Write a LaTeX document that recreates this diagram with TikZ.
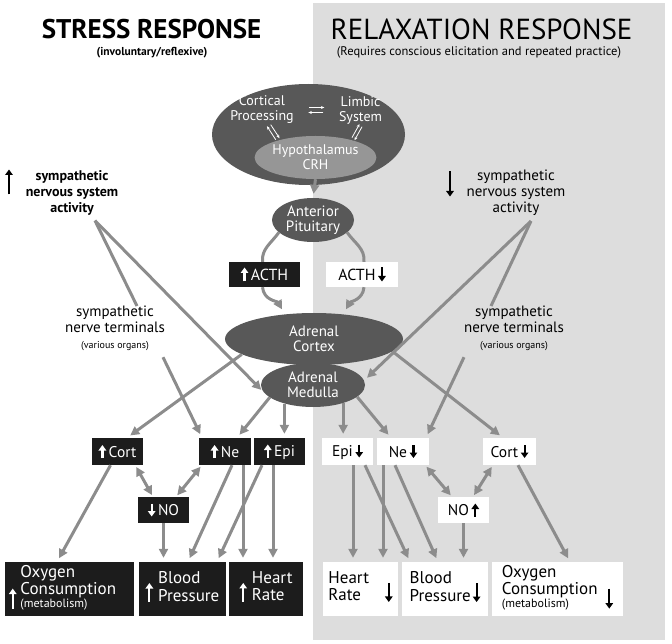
\documentclass[tikz,border=0pt]{standalone}
\usepackage{fontspec}
\setmainfont{PT Sans}
\usetikzlibrary{arrows.meta,shapes.geometric,positioning,calc}
\definecolor{panelgray}{RGB}{221,221,221}
\definecolor{organgray}{RGB}{88,88,88}
\definecolor{hypogray}{RGB}{150,150,150}
\definecolor{linkgray}{RGB}{140,140,140}
\definecolor{boxblack}{RGB}{28,28,28}
\newcommand{\fs}[2]{\fontsize{#1}{#2}\selectfont}
\newcommand{\Up}[1]{\tikz[baseline=0pt]\draw[line width=2.2pt,-{Triangle[length=5.5pt,width=7.5pt]}] (0pt,-1pt) -- (0pt,#1);}
\newcommand{\Dn}[1]{\tikz[baseline=0pt]\draw[line width=2.2pt,-{Triangle[length=5.5pt,width=7.5pt]}] (0pt,#1) -- (0pt,-1pt);}
\tikzset{
  organ/.style={ellipse, fill=organgray, text=white, align=center, inner sep=0pt, font=\fs{15}{15}},
  organtext/.style={text=white, align=center, inner sep=0pt, font=\fs{14}{15}},
  upbox/.style={fill=boxblack, text=white, inner sep=0pt, font=\fs{15.5}{16}},
  dnbox/.style={fill=white, text=black, inner sep=0pt, font=\fs{15.5}{16}},
  outU/.style={upbox, minimum height=54pt, font=\fs{17}{17}},
  outD/.style={dnbox, minimum height=54pt, font=\fs{17}{17}},
  note/.style={align=center, inner sep=0pt},
  glyph/.style={inner sep=0pt},
  link/.style={draw=linkgray, line width=3pt, -{Triangle[length=9pt,width=9pt]}, shorten >=4pt},
  bilink/.style={draw=linkgray, line width=3pt, {Triangle[length=9pt,width=9pt]}-{Triangle[length=9pt,width=9pt]}, shorten >=2pt, shorten <=2pt},
  nerve/.style={draw=linkgray, line width=3pt},
  minor/.style={draw=white, line width=0.8pt, -{Stealth[length=3.5pt,width=3pt]}, shorten <=2pt, shorten >=1pt}
}
\begin{document}
\begin{tikzpicture}[x=1pt, y=1pt]
  \useasboundingbox (0,0) rectangle (672,-644);
  \fill[panelgray] (313,-3) rectangle (665,-640);

  % headings
  \node[inner sep=0pt, font=\bfseries\fs{27}{27}] (stressT) at (151.5,-29.5) {STRESS RESPONSE};
  \node[inner sep=0pt, font=\bfseries\fs{11.5}{12}] (stressS) at (152,-53) {(involuntary/reflexive)};
  \node[inner sep=0pt, font=\fs{29}{29}] (relaxT) at (481.5,-29.5) {RELAXATION RESPONSE};
  \node[inner sep=0pt, font=\fs{12.5}{13}] (relaxS) at (479,-52.5) {(Requires conscious elicitation and repeated practice)};

  % brain and HPA axis
  \node[organ, minimum width=193pt, minimum height=101pt] (brain) at (308.5,-134.5) {};
  \node[organtext] (cortical) at (262,-110) {Cortical\\Processing};
  \node[organtext] (limbic) at (360.5,-110) {Limbic\\System};
  \node[organ, fill=hypogray, minimum width=113pt, minimum height=43pt, font=\fs{14}{15}] (hypo) at (315.5,-157.5) {Hypothalamus\\CRH};
  \node[organ, minimum width=82pt, minimum height=44pt] (ap) at (313,-220) {Anterior\\Pituitary};
  \node[organ, minimum width=178pt, minimum height=52pt] (cortex) at (314,-339) {Adrenal\\Cortex};
  \node[organ, minimum width=104pt, minimum height=44pt] (medulla) at (313,-385) {Adrenal\\Medulla};

  \node[upbox, minimum width=71pt, minimum height=25pt, font=\fs{16}{16}] (acthU) at (264.5,-274.5) {\Up{13pt}\,ACTH};
  \node[dnbox, minimum width=72pt, minimum height=25pt, font=\fs{16}{16}] (acthD) at (362,-274.5) {ACTH\,\Dn{13pt}};

  % sympathetic labels
  \node[glyph] (actLarr) at (9,-182) {\Up{24pt}};
  \node[note, font=\bfseries\fs{14}{16}] (actL) at (72,-193) {sympathetic\\nervous system\\activity};
  \node[glyph] (actRarr) at (450,-184) {\Dn{24pt}};
  \node[note, font=\fs{15}{16}] (actR) at (516,-193) {sympathetic\\nervous system\\activity};
  \node[note, font=\fs{15}{16}, anchor=north] (termL) at (115,-306) {sympathetic\\nerve terminals\\{\fs{10}{11}(various organs)}};
  \node[note, font=\fs{15}{16}, anchor=north] (termR) at (514,-306) {sympathetic\\nerve terminals\\{\fs{10}{11}(various organs)}};
  \coordinate (apexL) at ([shift={(23,-5)}]actL.south);
  \coordinate (apexR) at ([shift={(15,-5)}]actR.south);

  % hormone boxes
  \node[upbox, minimum width=51pt, minimum height=27pt] (cortU) at (117.5,-451.5) {\Up{12pt}\,Cort};
  \node[upbox, minimum width=52pt, minimum height=27pt] (neU) at (225,-451.5) {\Up{12pt}\,Ne};
  \node[upbox, minimum width=51pt, minimum height=27pt] (epiU) at (279.5,-451.5) {\Up{12pt}\,Epi};
  \node[upbox, minimum width=51pt, minimum height=26pt] (noU) at (163.5,-510) {\Dn{12pt}\,NO};
  \node[dnbox, minimum width=51pt, minimum height=27pt] (epiD) at (347.5,-451.5) {Epi\,\Dn{12pt}};
  \node[dnbox, minimum width=52pt, minimum height=27pt] (neD) at (403,-451.5) {Ne\,\Dn{12pt}};
  \node[dnbox, minimum width=53pt, minimum height=27pt] (cortD) at (509.5,-451.5) {Cort\,\Dn{12pt}};
  \node[dnbox, minimum width=51pt, minimum height=26pt] (noD) at (463.5,-510) {NO\,\Up{12pt}};

  % outcomes
  \node[outU, text width=121pt, inner xsep=4pt, align=left] (oxyU) at (69.5,-589) {\Up{19pt}\hspace{4pt}\begin{tabular}[b]{@{}l@{}}Oxygen\\Consumption\\[-4pt]{\fs{12}{12}(metabolism)}\end{tabular}};
  \node[outU, minimum width=87pt] (bloodU) at (182.5,-589) {\Up{18pt}\hspace{5pt}\begin{tabular}[b]{@{}l@{}}Blood\\Pressure\end{tabular}};
  \node[outU, minimum width=74pt] (heartU) at (266,-589) {\Up{18pt}\hspace{5pt}\begin{tabular}[b]{@{}l@{}}Heart\\Rate\end{tabular}};
  \node[outD, minimum width=75pt] (heartD) at (360.5,-589) {\begin{tabular}[b]{@{}l@{}}Heart\\Rate\end{tabular}\hspace{16pt}\Dn{18pt}};
  \node[outD, minimum width=86pt] (bloodD) at (445,-589) {\begin{tabular}[b]{@{}l@{}}Blood\\Pressure\end{tabular}\hspace{2pt}\Dn{18pt}};
  \node[outD, minimum width=131pt] (oxyD) at (557.5,-589) {\begin{tabular}[b]{@{}l@{}}Oxygen\\Consumption\\[-4pt]{\fs{12}{12}(metabolism)}\end{tabular}\hspace{8pt}\Dn{19pt}};

  % brain arrows
  \path (cortical) -- (limbic) coordinate[pos=.5] (mid);
  \draw[minor] ([shift={(-9,2.5)}]mid) -- ([shift={(9,2.5)}]mid);
  \draw[minor] ([shift={(9,-2.5)}]mid) -- ([shift={(-9,-2.5)}]mid);
  \draw[minor] ([shift={(7.6,1.2)}]cortical.south) -- ([shift={(1.6,1.2)}]hypo.155);
  \draw[minor] ([shift={(-1.6,-1.2)}]hypo.155) -- ([shift={(4.4,-1.2)}]cortical.south);
  \draw[minor] ([shift={(2.5,-0.9)}]limbic.south) -- ([shift={(1.5,-0.9)}]hypo.25);
  \draw[minor] ([shift={(-1.5,0.9)}]hypo.25) -- ([shift={(-0.5,0.9)}]limbic.south);

  \draw[link] (hypo.south) -- (ap.north);
  \draw[nerve] (ap.200) to[out=235,in=95] ([xshift=-2]acthU.north);
  \draw[link] ([xshift=-2]acthU.south) to[out=-85,in=120] ([xshift=-30]cortex.north);
  \draw[nerve] (ap.340) to[out=-55,in=85] ([xshift=2]acthD.north);
  \draw[link] ([xshift=2]acthD.south) to[out=-95,in=60] ([xshift=30]cortex.north);

  % sympathetic paths
  \draw[nerve] (apexL) -- ([xshift=22]termL.north);
  \draw[link] (apexL) -- (medulla.189);
  \draw[link] ([shift={(48,-6)}]termL.south) -- ([xshift=-23]neU.north);
  \draw[nerve] (apexR) -- ([xshift=-23]termR.north);
  \draw[link] (apexR) -- (medulla.5);
  \draw[link] ([shift={(-50,-6)}]termR.south) -- ([xshift=23]neD.north);

  % adrenal output
  \draw[link] (cortex.192) -- ([xshift=9.5]cortU.north);
  \draw[link] (cortex.351) -- ([xshift=-6.5]cortD.north);
  \draw[link] (medulla.196) -- ([xshift=12]neU.north);
  \draw[link] (medulla.213) -- (medulla.213 |- epiU.north);
  \draw[link] (medulla.329) -- (medulla.329 |- epiD.north);
  \draw[link] (medulla.345) -- ([xshift=-12]neD.north);

  % nitric oxide
  \draw[bilink] ([xshift=-8]cortU.south east) -- ([xshift=-10.5]noU.north);
  \draw[bilink] ([xshift=3]neU.south west) -- ([xshift=12.5]noU.north);
  \draw[bilink] ([xshift=-4]neD.south east) -- ([xshift=-11.5]noD.north);
  \draw[bilink] ([xshift=10]cortD.south west) -- ([xshift=9.5]noD.north);

  % to outcomes
  \draw[link] ([xshift=-7]cortU.south) -- ([xshift=-12.5]oxyU.north);
  \draw[link] (noU.south) -- (noU.south |- bloodU.north);
  \draw[link] ([xshift=7]neU.south) -- ([xshift=5.5]bloodU.north);
  \draw[link] ([xshift=18]neU.south) -- ([xshift=18]neU.south |- heartU.north);
  \draw[link] ([xshift=-17.5]epiU.south) -- ([xshift=34.5]bloodU.north);
  \draw[link] ([xshift=-6.5]epiU.south) -- ([xshift=-6.5]epiU.south |- heartU.north);
  \draw[link] ([xshift=5.5]epiD.south) -- ([xshift=5.5]epiD.south |- heartD.north);
  \draw[link] ([xshift=17.5]epiD.south) -- ([xshift=-35]bloodD.north);
  \draw[link] ([xshift=-20]neD.south) -- ([xshift=-20]neD.south |- heartD.north);
  \draw[link] ([xshift=-8]neD.south) -- ([xshift=-7]bloodD.north);
  \draw[link] (noD.south) -- (noD.south |- bloodD.north);
  \draw[link] ([xshift=8.5]cortD.south) -- ([xshift=12.5]oxyD.north);
\end{tikzpicture}
\end{document}
